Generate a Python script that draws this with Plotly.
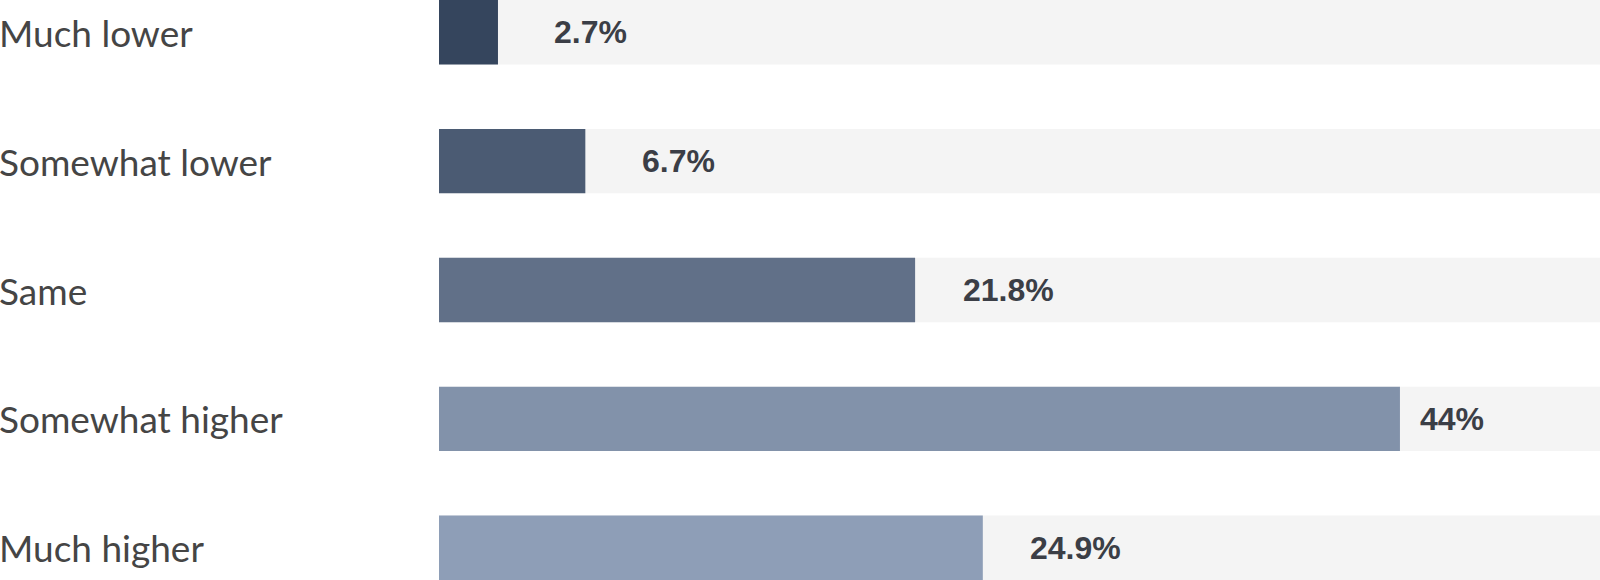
import plotly.graph_objects as go

categories = ["Much lower", "Somewhat lower", "Same", "Somewhat higher", "Much higher"]
values = [2.7, 6.7, 21.8, 44, 24.9]
value_labels = ["2.7%", "6.7%", "21.8%", "44%", "24.9%"]
bar_colors = ["#35455d", "#4b5b73", "#617088", "#8292aa", "#8e9eb7"]

W, H = 1600, 580
LEFT = 439
XMAX = 53.16
ppu = (W - LEFT) / XMAX
LABEL_SHIFT_PX = 93
LABEL_MAX = 46.4

fig = go.Figure()
fig.add_trace(go.Bar(
    y=categories, x=[XMAX] * len(categories), orientation="h",
    marker=dict(color="#f4f4f4", line=dict(width=0)), width=0.5,
    hoverinfo="skip", showlegend=False,
))
fig.add_trace(go.Bar(
    y=categories, x=values, orientation="h",
    marker=dict(color=bar_colors, line=dict(width=0)), width=0.5,
    showlegend=False,
))

for cat, v, lab in zip(categories, values, value_labels):
    xc = min(v + LABEL_SHIFT_PX / ppu, LABEL_MAX)
    fig.add_annotation(
        x=xc, y=cat, xref="x", yref="y", text=lab, showarrow=False,
        xanchor="center", yanchor="middle",
        font=dict(family="Liberation Sans", size=32, color="#3b3e46", weight="bold"),
    )
    fig.add_annotation(
        x=-LEFT / (W - LEFT), y=cat, xref="paper", yref="y", text=cat, showarrow=False,
        xanchor="left", yanchor="middle", xshift=-3,
        font=dict(family="Lato", size=37, color="#454545"),
    )

fig.update_layout(
    width=W, height=H,
    margin=dict(l=LEFT, r=0, t=0, b=0),
    paper_bgcolor="white", plot_bgcolor="white",
    barmode="overlay",
    xaxis=dict(range=[0, XMAX], visible=False, fixedrange=True),
    yaxis=dict(range=[4.25, -0.25], visible=False, fixedrange=True, categoryorder="array", categoryarray=categories),
)

fig.write_html(
    "out.html",
    config={"displayModeBar": False},
    post_script="document.body.style.margin='0';document.body.style.padding='0';",
)
